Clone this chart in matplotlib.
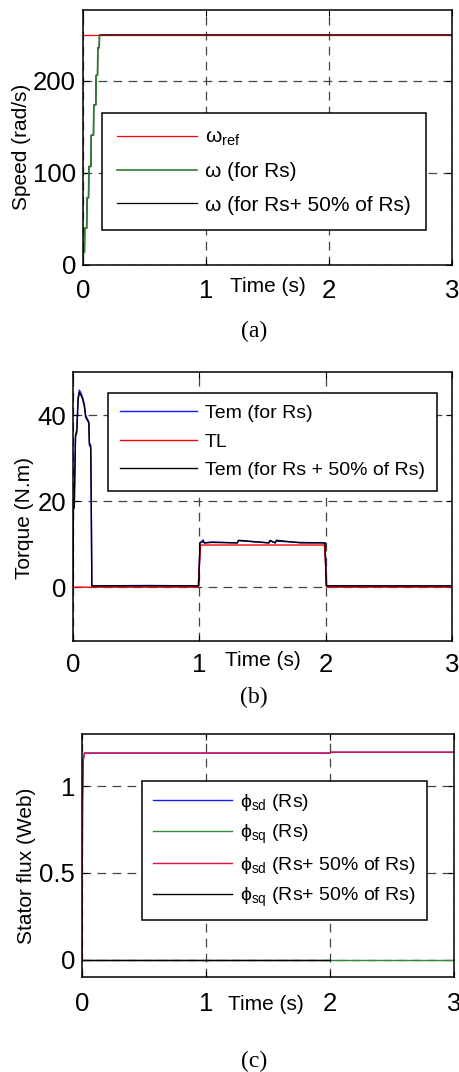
import matplotlib
matplotlib.use("Agg")
import matplotlib.pyplot as plt

plt.rcParams['font.family'] = ['Liberation Sans', 'DejaVu Sans']
plt.rcParams['mathtext.fontset'] = 'custom'
plt.rcParams['mathtext.rm'] = 'Liberation Sans'
plt.rcParams['mathtext.default'] = 'regular'

# ---------------- data ----------------
# (a) speed
t_ref = [0.0, 3.0]
w_ref = [250, 250]
t_w_rs = [0.0, 0.004, 0.012, 0.014, 0.030, 0.033, 0.045, 0.048, 0.064, 0.067, 0.085, 0.088,
          0.104, 0.107, 0.118, 0.121, 0.132, 0.134]
w_rs = [0, 14, 14, 40, 40, 73, 73, 107, 107, 141, 141, 174, 174, 206, 206, 236, 236, 250]
t_w_rs50 = t_w_rs + [3.0]
w_rs50 = w_rs + [250]

# (b) torque
t_tem = [0.0, 0.003, 0.010, 0.020, 0.030, 0.040, 0.050, 0.060, 0.075, 0.090, 0.100, 0.115,
         0.125, 0.130, 0.140, 0.144, 0.149, 0.60, 0.995, 1.005, 1.03, 1.04, 1.10, 1.30, 1.31,
         1.55, 1.56, 1.60, 1.61, 1.80, 1.995, 2.005, 3.0]
tem_rs = [0, 18.5, 19, 35.5, 36.5, 44, 45.8, 45.3, 44.2, 42.5, 40, 39, 38.5, 33.5, 33, 22,
          0.3, 0.4, 0.3, 10.3, 11.0, 10.3, 10.5, 10.3, 10.8, 10.3, 10.9, 10.3, 10.7, 10.4,
          10.3, 0.3, 0.3]
tem_rs50 = [0, 18.0, 18.5, 35.0, 36.0, 43.5, 45.2, 44.8, 43.8, 42.0, 39.5, 38.7, 38.2, 33.0,
            32.5, 22, 0.3, 0.3, 0.3, 10.3, 10.6, 10.3, 10.4, 10.3, 10.9, 10.3, 10.8, 10.3,
            10.9, 10.3, 10.3, 0.3, 0.3]
t_tl = [0.0, 0.99, 1.01, 1.99, 2.01, 3.0]
tl = [0, 0, 9.8, 9.8, 0, 0]

# (c) stator flux
t_flux = [0.0, 0.004, 0.010, 0.020, 2.0, 2.01, 3.0]
phi_sd_rs = [0.0, 0.9, 1.15, 1.19, 1.19, 1.195, 1.195]
phi_sq_rs = [0.0, 0.0, 0.0, 0.0, 0.0, 0.0, 0.0]
phi_sd_rs50 = [0.0, 0.9, 1.15, 1.19, 1.19, 1.195, 1.195]
t_phi_sq_rs50 = [0.0, 2.0]
phi_sq_rs50 = [0.0, 0.0]

xticks = [0, 1, 2, 3]
xticklabels = ['0', '1', '2', '3']

# ---------------- figure ----------------
W, H = 460, 1072
fig = plt.figure(figsize=(W / 100, H / 100), dpi=100)


def make_ax(l, r, t, b):
    return fig.add_axes([l / W, 1 - b / H, (r - l) / W, (b - t) / H])


TICK_FS = 18.5
LAB_FS = 15
GRID_KW = dict(color='#444444', linestyle=(0, (7, 5)), linewidth=0.9)


def style(ax, yticks, yticklabels, ylim, xpad):
    ax.set_xlim(0, 3)
    ax.set_ylim(*ylim)
    ax.set_xticks(xticks)
    ax.set_xticklabels(xticklabels)
    ax.set_yticks(yticks)
    ax.set_yticklabels(yticklabels)
    ax.tick_params(direction='in', length=4, width=0.8, top=True, right=True,
                   labelsize=TICK_FS)
    ax.tick_params(axis='x', pad=xpad)
    ax.tick_params(axis='y', pad=5)
    ax.grid(True, **GRID_KW)
    for s in ax.spines.values():
        s.set_linewidth(1.1)
        s.set_color('black')


def legend(ax, handles, labels, x0, ytop, fs, hl, spacing, pad):
    leg = ax.legend(handles, labels, loc='upper left', bbox_to_anchor=(x0, ytop),
                    fontsize=fs, handlelength=hl, handletextpad=0.4,
                    labelspacing=spacing, borderpad=pad, fancybox=False, framealpha=1,
                    edgecolor='black', borderaxespad=0)
    leg.get_frame().set_linewidth(1.1)
    return leg


# (a)
ax1 = make_ax(83, 452, 10, 265)
l_ref, = ax1.plot(t_ref, w_ref, color='red', lw=0.9)
l_rs50, = ax1.plot(t_w_rs50, w_rs50, color='black', lw=0.9, zorder=2.1)
l_rs, = ax1.plot(t_w_rs, w_rs, color='#2e7d32', lw=1.2, zorder=2.2)
style(ax1, [0, 100, 200], ['0', '100', '200'], (0, 277), 10)
legend(ax1, [l_ref, l_rs, l_rs50],
       [r'ω$_{ref}$', 'ω (for Rs)', 'ω (for Rs+ 50% of Rs)'],
       0.051, 0.596, 15, 3.85, 0.68, 0.72)
ax1.set_xlabel('Time (s)', fontsize=LAB_FS)
ax1.xaxis.set_label_coords(0.501, -0.086)
ax1.xaxis.label.set_va('center')
ax1.set_ylabel('Speed (rad/s)', fontsize=LAB_FS, va='center', ha='center')
ax1.yaxis.set_label_coords(-0.168, 0.463)

# (b)
ax2 = make_ax(73, 452, 372, 641)
b1, = ax2.plot(t_tem, tem_rs, color='#1a1aff', lw=1.0)
b2, = ax2.plot(t_tl, tl, color='red', lw=1.0)
b3, = ax2.plot(t_tem, tem_rs50, color='black', lw=1.0)
style(ax2, [0, 20, 40], ['0', '20', '40'], (-12.5, 50), 9)
legend(ax2, [b1, b2, b3], ['Tem (for Rs)', 'TL', 'Tem (for Rs + 50% of Rs)'],
       0.092, 0.922, 14, 4.0, 0.55, 0.6)
ax2.set_xlabel('Time (s)', fontsize=LAB_FS)
ax2.xaxis.set_label_coords(0.501, -0.071)
ax2.xaxis.label.set_va('center')
ax2.set_ylabel('Torque (N.m)', fontsize=LAB_FS, va='center', ha='center')
ax2.yaxis.set_label_coords(-0.127, 0.459)

# (c)
ax3 = make_ax(82, 454, 734, 977)
c1, = ax3.plot(t_flux, phi_sd_rs, color='#1a1aff', lw=1.0)
c2, = ax3.plot(t_flux, phi_sq_rs, color='#2e8b3e', lw=1.0)
c3, = ax3.plot(t_flux, phi_sd_rs50, color='#e8103c', lw=1.0)
c4, = ax3.plot(t_phi_sq_rs50, phi_sq_rs50, color='black', lw=1.0)
style(ax3, [0, 0.5, 1], ['0', '0.5', '1'], (-0.1, 1.3), 11)
legend(ax3, [c1, c2, c3, c4],
       [r'ϕ$_{sd}$ (Rs)', r'ϕ$_{sq}$ (Rs)', r'ϕ$_{sd}$ (Rs+ 50% of Rs)',
        r'ϕ$_{sq}$ (Rs+ 50% of Rs)'],
       0.161, 0.807, 14, 4.1, 0.5, 0.55)
ax3.set_xlabel('Time (s)', fontsize=LAB_FS)
ax3.xaxis.set_label_coords(0.495, -0.115)
ax3.xaxis.label.set_va('center')
ax3.set_ylabel('Stator flux (Web)', fontsize=LAB_FS, va='center', ha='center')
ax3.yaxis.set_label_coords(-0.149, 0.457)

# captions
for cap, yc in [('(a)', 331), ('(b)', 697), ('(c)', 1061)]:
    fig.text(254 / W, 1 - yc / H, cap, ha='center', va='center', fontsize=17,
             family=['Liberation Serif', 'DejaVu Serif'])

fig.savefig('out.png', dpi=100)
